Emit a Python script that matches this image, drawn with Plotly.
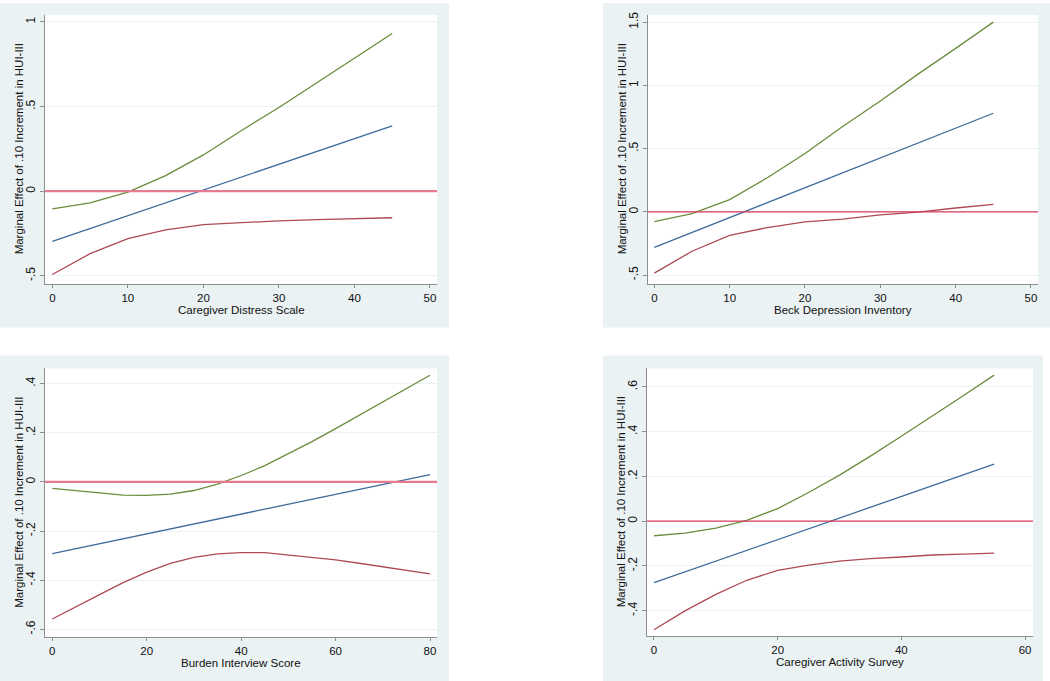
import plotly.graph_objects as go

# ---------------- data ----------------
# Panel 1: Caregiver Distress Scale
cds_x = [0, 5, 10, 15, 20, 25, 30, 35, 40, 45]
cds_me = [-0.296, -0.220, -0.144, -0.069, 0.007, 0.083, 0.159, 0.235, 0.311, 0.386]
cds_hi = [-0.104, -0.069, -0.006, 0.092, 0.214, 0.357, 0.494, 0.641, 0.788, 0.931]
cds_lo = [-0.492, -0.369, -0.280, -0.229, -0.198, -0.186, -0.175, -0.168, -0.162, -0.157]

# Panel 2: Beck Depression Inventory
bdi_x = [0, 5, 10, 15, 20, 25, 30, 35, 40, 45]
bdi_me = [-0.280, -0.162, -0.044, 0.073, 0.191, 0.309, 0.427, 0.544, 0.662, 0.780]
bdi_hi = [-0.076, -0.013, 0.097, 0.270, 0.461, 0.675, 0.877, 1.089, 1.293, 1.500]
bdi_lo = [-0.484, -0.311, -0.185, -0.124, -0.079, -0.057, -0.023, -0.001, 0.031, 0.060]

# Panel 3: Burden Interview Score
bis_x = [0, 5, 10, 15, 20, 25, 30, 35, 40, 45, 50, 55, 60, 65, 70, 75, 80]
bis_me = [-0.292, -0.272, -0.252, -0.232, -0.211, -0.191, -0.171, -0.151, -0.131,
          -0.111, -0.091, -0.071, -0.050, -0.030, -0.010, 0.010, 0.030]
bis_hi = [-0.026, -0.037, -0.045, -0.054, -0.055, -0.050, -0.035, -0.009, 0.026,
          0.066, 0.115, 0.164, 0.217, 0.271, 0.326, 0.380, 0.434]
bis_lo = [-0.558, -0.507, -0.459, -0.410, -0.367, -0.332, -0.307, -0.293, -0.288,
          -0.288, -0.297, -0.307, -0.317, -0.331, -0.346, -0.360, -0.374]

# Panel 4: Caregiver Activity Survey
cas_x = [0, 5, 10, 15, 20, 25, 30, 35, 40, 45, 50, 55]
cas_me = [-0.275, -0.227, -0.179, -0.130, -0.082, -0.034, 0.014, 0.062, 0.110, 0.159, 0.207, 0.255]
cas_hi = [-0.065, -0.053, -0.031, 0.004, 0.056, 0.128, 0.206, 0.291, 0.380, 0.469, 0.561, 0.653]
cas_lo = [-0.485, -0.401, -0.327, -0.264, -0.220, -0.196, -0.178, -0.167, -0.160, -0.151, -0.147, -0.143]

# tick labels
p1_xticks = [0, 10, 20, 30, 40, 50]
p1_yticks = [-0.5, 0, 0.5, 1]
p1_ylabels = ["-.5", "0", ".5", "1"]
p2_xticks = [0, 10, 20, 30, 40, 50]
p2_yticks = [-0.5, 0, 0.5, 1, 1.5]
p2_ylabels = ["-.5", "0", ".5", "1", "1.5"]
p3_xticks = [0, 20, 40, 60, 80]
p3_yticks = [-0.6, -0.4, -0.2, 0, 0.2, 0.4]
p3_ylabels = ["-.6", "-.4", "-.2", "0", ".2", ".4"]
p4_xticks = [0, 20, 40, 60]
p4_yticks = [-0.4, -0.2, 0, 0.2, 0.4, 0.6]
p4_ylabels = ["-.4", "-.2", "0", ".2", ".4", ".6"]

x_titles = ["Caregiver Distress Scale", "Beck Depression Inventory",
            "Burden Interview Score", "Caregiver Activity Survey"]
y_title = "Marginal Effect of .10 Increment in HUI-III"

# ---------------- styling ----------------
W, H = 1050, 681
FONT = "Liberation Sans, Arial, sans-serif"
BG = "#EAF2F3"
C_ME = "#3f6b9b"
C_HI = "#6a8c3c"
C_LO = "#ad4a55"
C_AX = "#8f8f8f"

def px(x):
    return x / W

def py(y):
    return 1 - y / H

# panel geometry in pixels: (panel bg box), (plot box), x range, y range
panels = [
    dict(bg=(0, 0, 449, 326), plot=(45, 12, 437, 282), xr=[-0.97, 50.93], yr=[-0.547, 1.041],
         x=cds_x, me=cds_me, hi=cds_hi, lo=cds_lo, xt=p1_xticks, yt=p1_yticks, yl=p1_ylabels,
         ref_col="#e57a90", ref_w=2.2),
    dict(bg=(603, 0, 1050, 326), plot=(648, 12, 1038, 282), xr=[-0.84, 50.93], yr=[-0.568, 1.557],
         x=bdi_x, me=bdi_me, hi=bdi_hi, lo=bdi_lo, xt=p2_xticks, yt=p2_yticks, yl=p2_ylabels,
         ref_col="#d83a5c", ref_w=1.3),
    dict(bg=(0, 354, 449, 681), plot=(45, 367, 437, 637), xr=[-1.55, 81.48], yr=[-0.632, 0.462],
         x=bis_x, me=bis_me, hi=bis_hi, lo=bis_lo, xt=p3_xticks, yt=p3_yticks, yl=p3_ylabels,
         ref_col="#e57a90", ref_w=2.2),
    dict(bg=(603, 354, 1043, 681), plot=(647, 367, 1033, 636), xr=[-1.13, 61.29], yr=[-0.514, 0.683],
         x=cas_x, me=cas_me, hi=cas_hi, lo=cas_lo, xt=p4_xticks, yt=p4_yticks, yl=p4_ylabels,
         ref_col="#d83a5c", ref_w=1.3),
]

fig = go.Figure()
shapes = []
annotations = []
layout_axes = {}

for i, p in enumerate(panels):
    n = i + 1
    xa = "x" if n == 1 else f"x{n}"
    ya = "y" if n == 1 else f"y{n}"
    xkey = "xaxis" if n == 1 else f"xaxis{n}"
    ykey = "yaxis" if n == 1 else f"yaxis{n}"
    bx0, by0, bx1, by1 = p["bg"]
    qx0, qy0, qx1, qy1 = p["plot"]

    # panel background and white plot region
    shapes.append(dict(type="rect", xref="paper", yref="paper", layer="below",
                       x0=px(bx0), x1=px(bx1), y0=py(by1), y1=py(by0),
                       fillcolor=BG, line=dict(width=0)))
    shapes.append(dict(type="rect", xref="paper", yref="paper", layer="below",
                       x0=px(qx0), x1=px(qx1), y0=py(qy1), y1=py(qy0),
                       fillcolor="white", line=dict(width=0)))
    # zero reference line
    shapes.append(dict(type="line", xref=f"{xa} domain", yref=ya, layer="above",
                       x0=0, x1=1, y0=0, y1=0,
                       line=dict(color=p["ref_col"], width=p["ref_w"])))

    for vals, col in ((p["lo"], C_LO), (p["hi"], C_HI), (p["me"], C_ME)):
        fig.add_trace(go.Scatter(x=p["x"], y=vals, mode="lines", xaxis=xa, yaxis=ya,
                                 line=dict(color=col, width=1.3), showlegend=False,
                                 hoverinfo="skip"))

    layout_axes[xkey] = dict(domain=[px(qx0), px(qx1)], anchor=ya, range=p["xr"],
                             tickvals=p["xt"], ticktext=[str(v) for v in p["xt"]],
                             showgrid=False, zeroline=False, showline=True,
                             linecolor=C_AX, linewidth=1, ticks="outside", ticklen=3,
                             tickcolor=C_AX, tickfont=dict(family=FONT, size=11.5, color="#111"),
                             fixedrange=True)
    layout_axes[ykey] = dict(domain=[py(qy1), py(qy0)], anchor=xa, range=p["yr"],
                             tickvals=p["yt"], ticktext=p["yl"], tickangle=-90,
                             showgrid=True, gridcolor=BG, gridwidth=1,
                             zeroline=False, showline=True,
                             linecolor=C_AX, linewidth=1, ticks="outside", ticklen=4,
                             tickcolor=C_AX, tickfont=dict(family=FONT, size=12, color="#111"),
                             fixedrange=True)

    # axis titles
    annotations.append(dict(text=x_titles[i], xref="paper", yref="paper",
                            x=px((qx0 + qx1) / 2), y=py(qy1 + 26), xanchor="center",
                            yanchor="middle", showarrow=False,
                            font=dict(family=FONT, size=11.5, color="#111")))
    annotations.append(dict(text=y_title, xref="paper", yref="paper",
                            x=px(qx0 - 26), y=py((qy0 + qy1) / 2), xanchor="center",
                            yanchor="middle", textangle=-90, showarrow=False,
                            font=dict(family=FONT, size=11.5, color="#111")))

fig.update_layout(width=W, height=H, margin=dict(l=0, r=0, t=0, b=0),
                  paper_bgcolor="white", plot_bgcolor="white",
                  shapes=shapes, annotations=annotations, **layout_axes)

fig.write_html("out.html", config={"displayModeBar": False},
               post_script="document.body.style.margin='0';document.body.style.overflow='hidden';")
